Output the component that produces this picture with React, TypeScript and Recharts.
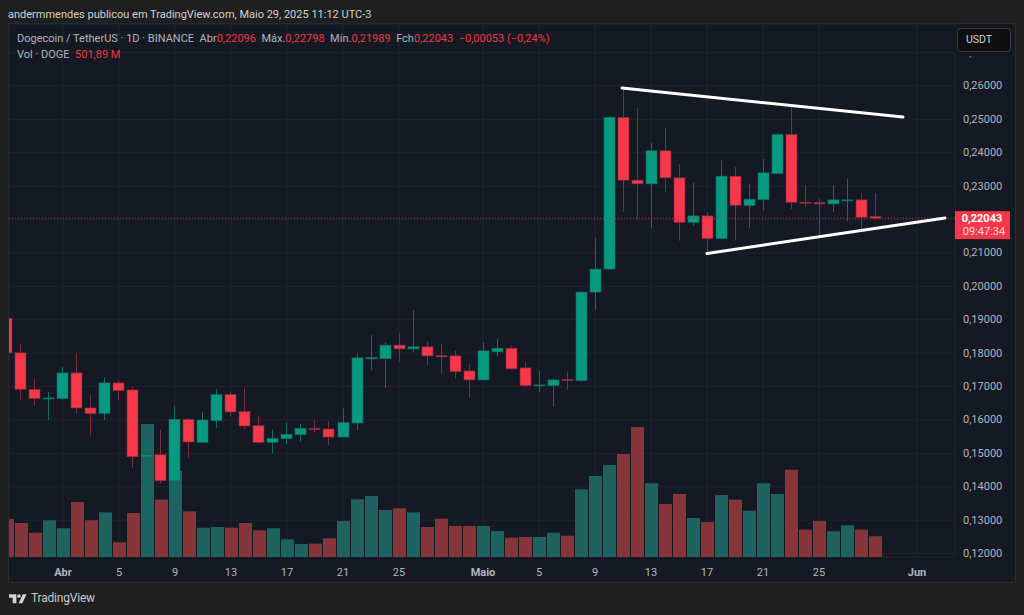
import { Bar, CartesianGrid, ComposedChart, ReferenceLine, XAxis, YAxis } from "recharts";

const FONT = "Roboto, 'Noto Sans', sans-serif";
const PANE = "#151924";
const UP = "#089981";
const DOWN = "#f7374a";
const UP_WICK = "#0c7163";
const DOWN_WICK = "#7d2c3a";
const UP_VOL = "#1f6361";
const DOWN_VOL = "#86363a";
const TEXT = "#b2b5be";

// Mar 28 to May 29, one value per day
const opens = [
  0.1905, 0.1801, 0.1692, 0.1663, 0.1664, 0.1741, 0.1636, 0.162, 0.1711, 0.169, 0.149, 0.1496, 0.1418, 0.1602, 0.1533, 0.1598,
  0.1676, 0.1625, 0.1583, 0.1533, 0.1544, 0.1556, 0.1575, 0.1573, 0.1549, 0.1591, 0.1783, 0.1784, 0.1824, 0.1813, 0.1819, 0.1793,
  0.1792, 0.1747, 0.172, 0.1804, 0.1815, 0.1756, 0.1703, 0.1703, 0.1721, 0.1718, 0.1983, 0.2052, 0.2506, 0.2318, 0.2307, 0.2406,
  0.2325, 0.2192, 0.2211, 0.2143, 0.233, 0.2242, 0.226, 0.2338, 0.2455, 0.2252, 0.2251, 0.2247, 0.2257, 0.2259, 0.22096,
];
const highs = [
  0.1905, 0.1828, 0.1723, 0.1684, 0.1759, 0.1801, 0.1675, 0.1727, 0.1717, 0.17, 0.154, 0.157, 0.1642, 0.1606, 0.1624, 0.1694,
  0.1685, 0.1696, 0.1612, 0.1572, 0.1593, 0.1588, 0.16, 0.1595, 0.1635, 0.18, 0.1854, 0.1833, 0.1861, 0.1929, 0.1836, 0.1827,
  0.1807, 0.1768, 0.1833, 0.1843, 0.1822, 0.1774, 0.1747, 0.1725, 0.1745, 0.1986, 0.2145, 0.251, 0.2596, 0.2534, 0.243, 0.2474,
  0.2366, 0.231, 0.2222, 0.2378, 0.2357, 0.2307, 0.2381, 0.2458, 0.2538, 0.2303, 0.2264, 0.2303, 0.2322, 0.2279, 0.22798,
];
const lows = [
  0.1801, 0.166, 0.1643, 0.16, 0.166, 0.1619, 0.1553, 0.16, 0.166, 0.1457, 0.1299, 0.141, 0.1363, 0.1487, 0.1532, 0.1577,
  0.161, 0.1573, 0.1529, 0.15, 0.1529, 0.1535, 0.1562, 0.1525, 0.1549, 0.157, 0.1749, 0.1696, 0.1775, 0.1802, 0.1765, 0.1738,
  0.1723, 0.1667, 0.172, 0.179, 0.1751, 0.1698, 0.1683, 0.1641, 0.169, 0.1715, 0.1929, 0.2049, 0.2222, 0.2201, 0.2174, 0.2281,
  0.2137, 0.2181, 0.2104, 0.2141, 0.2139, 0.2176, 0.2227, 0.2338, 0.2232, 0.2236, 0.2154, 0.2223, 0.2196, 0.2171, 0.21989,
];
const closes = [
  0.1801, 0.1692, 0.1664, 0.1666, 0.1741, 0.1636, 0.1619, 0.1711, 0.1688, 0.149, 0.1495, 0.1418, 0.1602, 0.1534, 0.16, 0.1676,
  0.1624, 0.1582, 0.1533, 0.1545, 0.1557, 0.1575, 0.1571, 0.1549, 0.1592, 0.1786, 0.1787, 0.1824, 0.1813, 0.1819, 0.1792, 0.1789,
  0.1745, 0.172, 0.1807, 0.1815, 0.1753, 0.1703, 0.1705, 0.172, 0.1718, 0.1983, 0.2052, 0.2506, 0.2318, 0.2307, 0.2406, 0.2325,
  0.2192, 0.2211, 0.2143, 0.233, 0.2243, 0.2261, 0.234, 0.2455, 0.2252, 0.225, 0.2247, 0.2259, 0.2259, 0.2207, 0.22043,
];
// millions of DOGE
const volumes = [
  920, 823, 588, 888, 695, 1331, 888, 1082, 356, 1065, 3219, 1387, 2081, 1106, 709, 726,
  709, 823, 646, 695, 428, 315, 322, 453, 871, 1396, 1476, 1137, 1179, 1082, 726, 927,
  750, 750, 750, 629, 467, 484, 484, 588, 515, 1638, 1960, 2226, 2493, 3146, 1784, 1283,
  1525, 944, 847, 1500, 1387, 1120, 1784, 1525, 2113, 661, 871, 622, 767, 661, 502,
];
// days counted from Apr 1
const firstDay = -4;
const dateTicks = [0, 4, 8, 12, 16, 20, 24, 30, 34, 38, 42, 46, 50, 54, 61];
const dateLabels = ["Abr", "5", "9", "13", "17", "21", "25", "Maio", "5", "9", "13", "17", "21", "25", "Jun"];
const priceTicks = [0.12, 0.13, 0.14, 0.15, 0.16, 0.17, 0.18, 0.19, 0.2, 0.21, 0.22, 0.23, 0.24, 0.25, 0.26, 0.27];
const hiddenPriceTick = 0.22; // sits behind the last price tag
const lastPrice = 0.22043;
const upperTrend = [{ x: 39.93, y: 0.2594 }, { x: 60, y: 0.2507 }];
const lowerTrend = [{ x: 46, y: 0.20985 }, { x: 63, y: 0.2205 }];

const rows = opens.map((open, i) => ({
  day: firstDay + i,
  open,
  high: highs[i],
  low: lows[i],
  close: closes[i],
  volume: volumes[i],
}));

function Candle(props: any) {
  const { x, y, width, height, payload } = props;
  const up = payload.close >= payload.open;
  const perUnit = height / (payload.high - payload.low);
  const top = y + (payload.high - Math.max(payload.open, payload.close)) * perUnit;
  const bottom = y + (payload.high - Math.min(payload.open, payload.close)) * perUnit;
  const mid = Math.round(x + width / 2) - 0.5;
  return (
    <g>
      <line x1={mid} x2={mid} y1={y} y2={y + height} stroke={up ? UP_WICK : DOWN_WICK} />
      <rect
        x={mid - 5.5}
        y={top}
        width={11}
        height={Math.max(bottom - top, 1)}
        fill={up ? UP : DOWN}
        stroke={up ? UP_WICK : DOWN_WICK}
        strokeWidth={0.6}
      />
    </g>
  );
}

function VolumeBar(props: any) {
  const { x, y, width, height, payload } = props;
  return (
    <rect x={x} y={y} width={width} height={height} fill={payload.close >= payload.open ? UP_VOL : DOWN_VOL} />
  );
}

function DateTick(props: any) {
  const { x, y, payload } = props;
  const label = dateLabels[dateTicks.indexOf(payload.value)];
  const month = isNaN(Number(label));
  return (
    <text x={x} y={y} textAnchor="middle" dominantBaseline="central" fill={TEXT} fontSize={11} fontFamily={FONT} fontWeight={month ? 700 : 400}>
      {label}
    </text>
  );
}

function PriceTick(props: any) {
  const { x, y, payload } = props;
  if (payload.value === hiddenPriceTick) return <g />;
  return (
    <text x={x} y={y} textAnchor="start" dominantBaseline="central" fill={TEXT} fontSize={11} fontFamily={FONT}>
      {payload.value.toFixed(5).replace(".", ",")}
    </text>
  );
}

function PriceTag(props: any) {
  const { x, y, width } = props.viewBox;
  const left = x + width;
  return (
    <g fontFamily={FONT} fontSize={11} textAnchor="middle">
      <rect x={left} y={y - 7} width={55} height={28} fill={DOWN} />
      <text x={left + 27} y={y + 3.5} fill="#fff" fontWeight={700}>0,22043</text>
      <text x={left + 29} y={y + 17} fill="#ffd9dc">09:47:34</text>
    </g>
  );
}

function Legend() {
  const red = { color: "#f23645" };
  return (
    <div style={{ position: "absolute", left: 17, top: 31, color: TEXT, fontSize: 11, lineHeight: "16px", whiteSpace: "pre" }}>
      <div>
        Dogecoin / TetherUS · 1D · BINANCE{"  "}Abr<span style={red}>0,22096</span>{"  "}Máx.<span style={red}>0,22798</span>{"  "}
        Mín.<span style={red}>0,21989</span>{"  "}Fch<span style={red}>0,22043</span>{"  "}<span style={red}>−0,00053 (−0,24%)</span>
      </div>
      <div>
        Vol · DOGE{"  "}<span style={red}>501,89 M</span>
      </div>
    </div>
  );
}

export default function App() {
  return (
    <div style={{ position: "absolute", left: 0, top: 0, width: 1024, height: 615, background: "#1f1f1f", fontFamily: FONT, overflow: "hidden" }}>
      <div style={{ position: "absolute", left: 8, top: 8, color: "#d1d1d1", fontSize: 11, whiteSpace: "pre" }}>
        andermmendes publicou em TradingView.com, Maio 29, 2025 11:12 UTC-3
      </div>
      <div style={{ position: "absolute", left: 9, top: 24, width: 1006, height: 558, background: PANE, outline: "1px solid #2a2d35" }} />
      <ComposedChart
        width={1024}
        height={615}
        data={rows}
        margin={{ top: 24, right: 9, bottom: 33, left: 9 }}
        style={{ position: "absolute", left: 0, top: 0 }}
      >
        <CartesianGrid xAxisId="price" yAxisId="price" stroke="#20242f" strokeWidth={1} />
        <XAxis
          xAxisId="price"
          dataKey="day"
          type="number"
          domain={[-3.857, 63.714]}
          allowDataOverflow
          ticks={dateTicks}
          interval={0}
          height={25}
          axisLine={false}
          tickLine={false}
          tick={<DateTick />}
          tickMargin={9}
        />
        <XAxis xAxisId="vol" dataKey="day" type="number" domain={[-3.857, 63.714]} allowDataOverflow hide />
        <YAxis
          yAxisId="price"
          orientation="right"
          domain={[0.11898, 0.27856]}
          allowDataOverflow
          ticks={priceTicks}
          interval={0}
          width={60}
          axisLine={false}
          tickLine={false}
          tick={<PriceTick />}
        />
        <YAxis yAxisId="vol" domain={[0, 12900]} allowDataOverflow hide />
        <Bar xAxisId="vol" yAxisId="vol" dataKey="volume" barSize={13} shape={<VolumeBar />} isAnimationActive={false} />
        <Bar
          xAxisId="price"
          yAxisId="price"
          dataKey={(d: any) => [d.low, d.high]}
          barSize={11}
          shape={<Candle />}
          isAnimationActive={false}
        />
        <ReferenceLine
          xAxisId="price"
          yAxisId="price"
          y={lastPrice}
          stroke="#c22f40"
          strokeDasharray="1 2"
          label={<PriceTag />}
        />
        <ReferenceLine xAxisId="price" yAxisId="price" segment={upperTrend} stroke="#fff" strokeWidth={3} strokeLinecap="round" ifOverflow="visible" />
        <ReferenceLine xAxisId="price" yAxisId="price" segment={lowerTrend} stroke="#fff" strokeWidth={3} strokeLinecap="round" ifOverflow="visible" />
      </ComposedChart>
      <Legend />
      <div style={{ position: "absolute", left: 957, top: 28, width: 54, height: 24, boxSizing: "border-box", background: "#0f0f0f", border: "1px solid #3a3a3a", borderRadius: 4, boxShadow: `0 0 0 4px ${PANE}`, color: "#d1d4dc", fontSize: 10.5, lineHeight: "22px", paddingLeft: 8 }}>
        USDT
      </div>
      <svg width={17.5} height={9.5} viewBox="0 0 19 10" style={{ position: "absolute", left: 9, top: 594 }}>
        <path d="M0 0h8v10H4V4H0z" fill="#d1d4dc" />
        <circle cx={10.8} cy={2} r={2} fill="#d1d4dc" />
        <path d="M15 0h4l-4.5 10h-4z" fill="#d1d4dc" />
      </svg>
      <div style={{ position: "absolute", left: 31, top: 591, color: "#c9cbd0", fontSize: 12, letterSpacing: -0.2 }}>TradingView</div>
    </div>
  );
}
